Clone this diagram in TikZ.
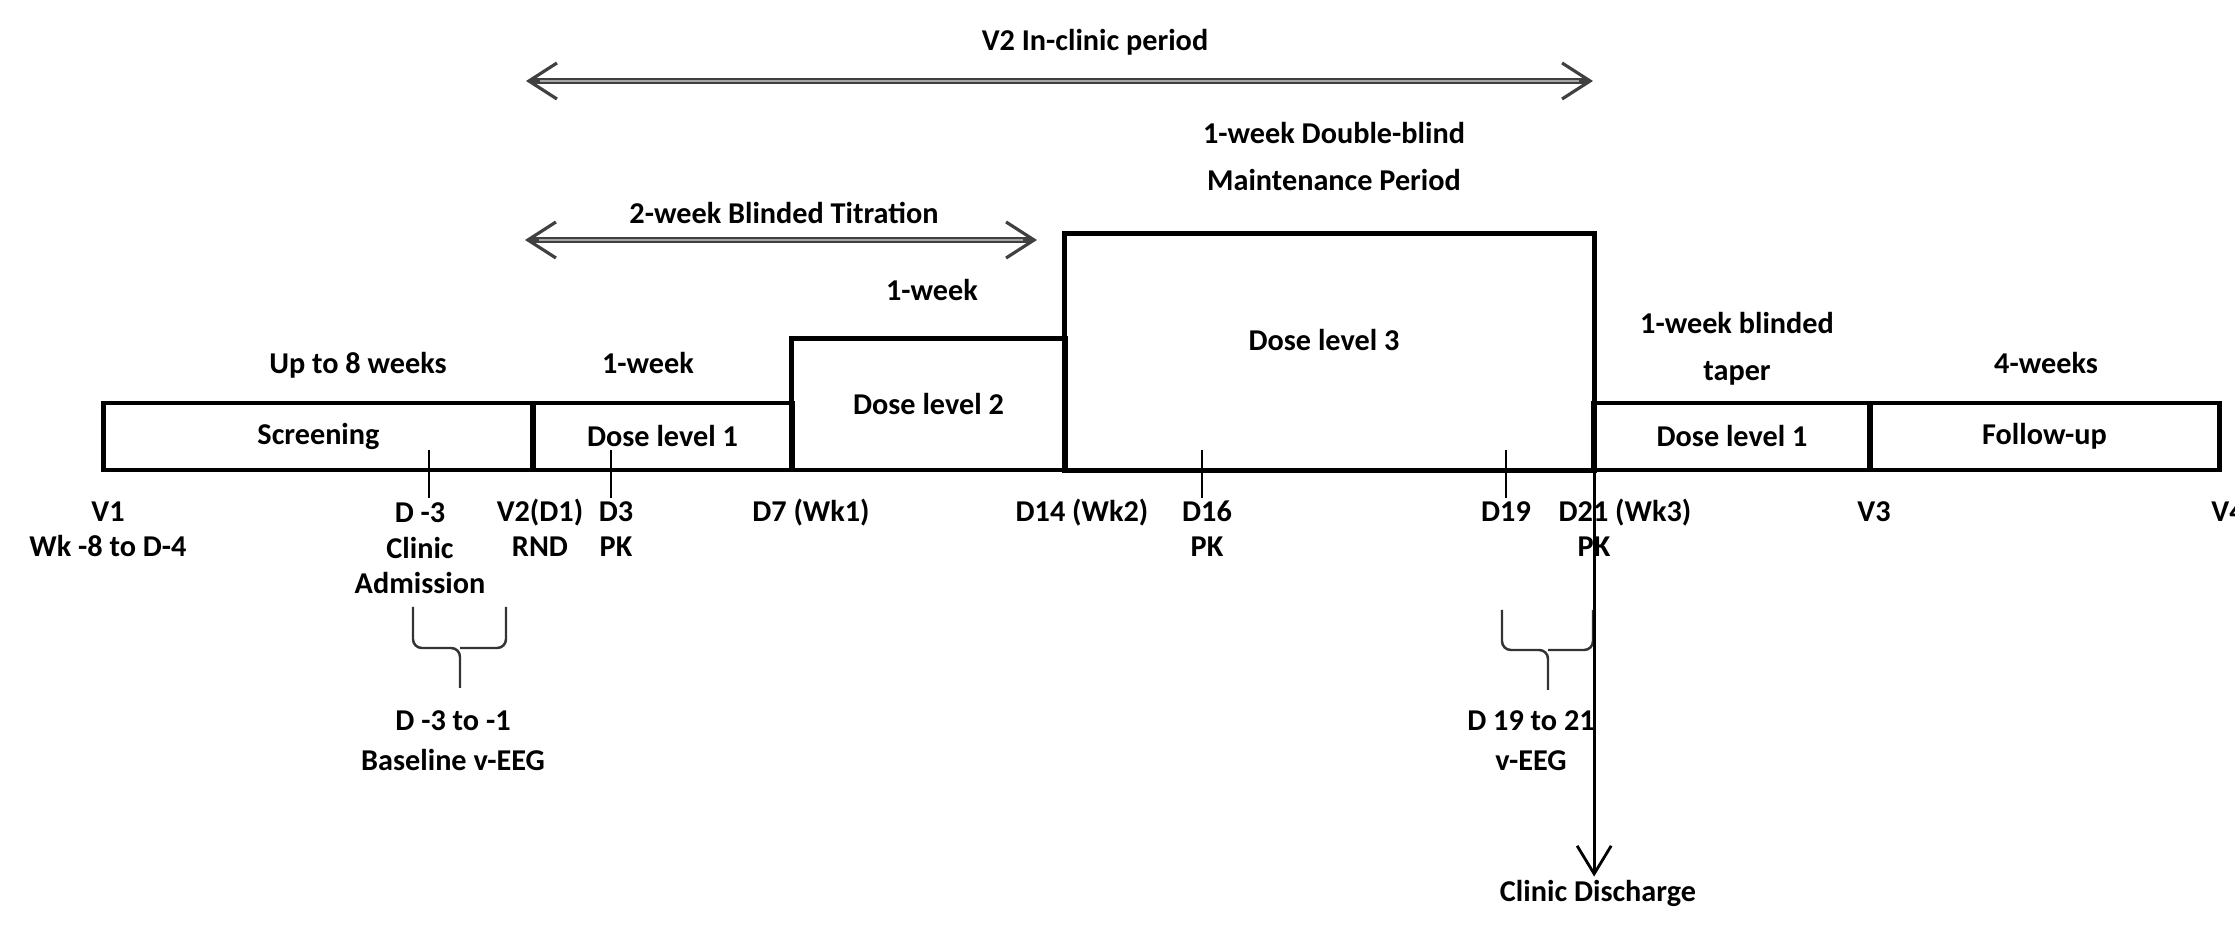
\documentclass[tikz,border=0pt]{standalone}
\usepackage{fontspec}
\setmainfont{Carlito}
\usetikzlibrary{arrows.meta}

\newcommand{\lblfont}{\fontsize{8.6}{10.2}\selectfont\bfseries}

\tikzset{
  barb/.tip={Straight Barb[length=0.28cm,width=0.36cm,line width=0.9pt]},
  period/.style={barb-barb, line width=1.6pt, draw=black!75,
    postaction={draw=gray!70, line width=0.5pt, -, shorten <=4pt, shorten >=4pt}},
  box/.style={draw, line width=1.4pt, inner sep=0pt, outer sep=0pt, font=\lblfont},
  lbl/.style={font=\lblfont, align=center, anchor=base, inner sep=1pt},
  tick/.style={line width=0.6pt},
  brace/.style={line width=0.7pt, draw=black!80, rounded corners=2.5pt},
  dcharge/.style={-{Straight Barb[length=0.28cm,width=0.34cm,line width=0.8pt]}, line width=0.8pt}
}

\begin{document}
\begin{tikzpicture}[x=0.01cm,y=-0.01cm]
\useasboundingbox (0,0) rectangle (2235,934);
% period arrows on top
\coordinate (inL) at (526,81);
\coordinate (inR) at (1593,81);
\coordinate (ttL) at (525,240);
\coordinate (ttR) at (1037,240);
\draw[period] (inL) -- (inR);% in-clinic period
\node[lbl] (inclinic) at (1095,51) {V2 In-clinic period};
\draw[period] (ttL) -- (ttR);% titration
\node[lbl] (titr) at (784,224) {2-week Blinded Titration};
% dose boxes
\node[box, minimum width=4.29cm, minimum height=0.67cm] (scr) at (318.5,436.5) {Screening};
\node[box, minimum width=2.59cm, minimum height=0.67cm] (dl1) at (662.5,436.5) {Dose level 1};
\node[box, minimum width=2.73cm, minimum height=1.31cm] (dl2) at (928.5,404.5) {Dose level 2};
\node[box, minimum width=5.29cm, minimum height=2.36cm] (dl3) at (1329.5,352) {};
\node[lbl, anchor=center] (dl3txt) at (1324,340) {Dose level 3};
\node[box, minimum width=2.76cm, minimum height=0.67cm] (tap) at (1732,436.5) {Dose level 1};
\node[box, minimum width=3.49cm, minimum height=0.67cm] (fup) at (2044.5,436.5) {Follow-up};
% headers over the boxes (base = last line)
\node[lbl] (hscr) at (358,374) {Up to 8 weeks};
\node[lbl] (hdl1) at (648,374) {1-week};
\node[lbl] (hdl2) at (932,301) {1-week};
\node[lbl] (hdl3) at (1334,191) {1-week Double-blind\\[3.2pt]Maintenance Period};
\node[lbl] (htap) at (1737,381) {1-week blinded\\[3.2pt]taper};
\node[lbl] (hfup) at (2046,374) {4-weeks};
% ticks
\foreach \x in {429,611,1202,1506}
  \draw[tick] (\x,450) -- (\x,498);
% day labels
\node[lbl] (v1) at (108,557) {V1\\Wk -8 to D-4};
\node[lbl] (dm3) at (420,594) {D -3\\Clinic\\Admission};
\node[lbl] (v2) at (540,557) {V2(D1)\\RND};
\node[lbl] (d3) at (616,557) {D3\\PK};
\node[lbl] (d7) at (811,522) {D7 (Wk1)};
\node[lbl] (d14) at (1082,522) {D14 (Wk2)};
\node[lbl] (d16) at (1207,557) {D16\\PK};
\node[lbl] (d19) at (1506,522) {D19};
\node[lbl] (d21) at (1625,522) {D21 (Wk3)};
\node[lbl] (d21pk) at (1594,557) {PK};
\node[lbl] (v3) at (1874,522) {V3};
\node[lbl] (v4) at (2228,522) {V4};
% braces
\draw[brace] (413,607) -- (413,648) -- (460,648) -- (460,688);
\draw[brace] (506,607) -- (506,648) -- (460,648);
\node[lbl] (base) at (453,771) {D -3 to -1\\[1.2pt]Baseline v-EEG};
\draw[brace] (1502,610) -- (1502,650) -- (1548,650) -- (1548,690);
\draw[brace] (1593,610) -- (1593,650) -- (1548,650);
\node[lbl] (veeg) at (1531,771) {D 19 to 21\\[1.2pt]v-EEG};
% clinic discharge
\node[lbl] (dis) at (1598,902) {Clinic Discharge};
\draw[dcharge] (dl3.north east) -- (dl3.north east |- dis.north);
\end{tikzpicture}
\end{document}
